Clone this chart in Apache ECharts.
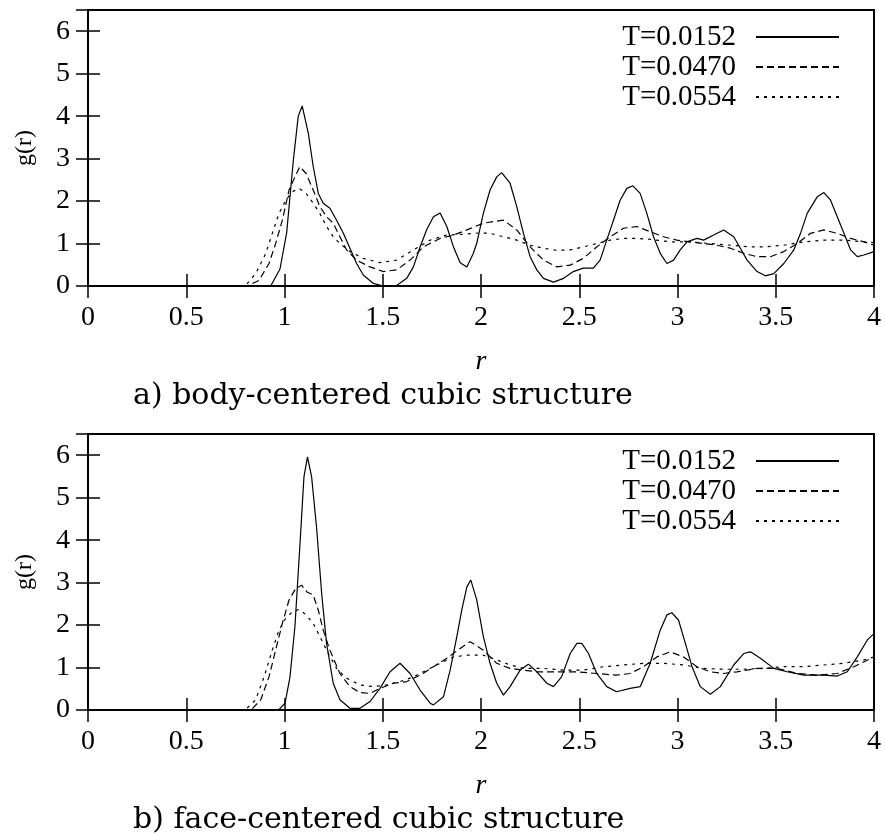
<!DOCTYPE html>
<html><head><meta charset="utf-8">
<script src="https://cdn.jsdelivr.net/npm/echarts@6/dist/echarts.min.js"></script>
<style>html,body{margin:0;padding:0;background:#fff}#c{width:885px;height:834px}</style>
</head><body><div id="c"></div>
<script>
const seriesNames = ['T=0.0152', 'T=0.0470', 'T=0.0554'];
const captions = ['a) body-centered cubic structure', 'b) face-centered cubic structure'];

// a) bcc, [r, g(r)]
const bcc_T0152 = [[0,0],[0.93,0],[0.977,0.4],[1.011,1.25],[1.045,2.96],[1.07,4.0],[1.09,4.24],[1.121,3.6],[1.146,2.82],[1.172,2.18],[1.197,1.95],[1.231,1.83],[1.265,1.55],[1.299,1.25],[1.333,0.89],[1.367,0.53],[1.401,0.26],[1.452,0.06],[1.503,0],[1.571,0.01],[1.622,0.18],[1.656,0.45],[1.69,0.92],[1.724,1.33],[1.758,1.63],[1.792,1.72],[1.826,1.40],[1.86,0.92],[1.894,0.55],[1.928,0.45],[1.96,0.76],[1.978,1.0],[2.012,1.71],[2.046,2.26],[2.08,2.57],[2.105,2.67],[2.148,2.42],[2.182,1.87],[2.216,1.24],[2.25,0.69],[2.284,0.38],[2.318,0.18],[2.369,0.09],[2.42,0.18],[2.47,0.34],[2.52,0.42],[2.572,0.42],[2.606,0.61],[2.64,1.08],[2.674,1.55],[2.708,2.02],[2.742,2.30],[2.773,2.36],[2.81,2.18],[2.844,1.71],[2.878,1.16],[2.912,0.77],[2.946,0.53],[2.98,0.61],[3.014,0.85],[3.048,1.04],[3.099,1.12],[3.133,1.08],[3.184,1.2],[3.235,1.32],[3.286,1.16],[3.32,0.89],[3.354,0.61],[3.405,0.34],[3.447,0.24],[3.49,0.29],[3.541,0.53],[3.592,0.85],[3.626,1.24],[3.66,1.71],[3.711,2.10],[3.745,2.20],[3.779,2.02],[3.813,1.63],[3.847,1.24],[3.881,0.85],[3.915,0.69],[3.949,0.73],[4.0,0.81]];
const bcc_T0470 = [[0,0],[0.81,0],[0.87,0.13],[0.921,0.53],[0.955,1.0],[0.989,1.55],[1.023,2.26],[1.057,2.61],[1.078,2.81],[1.11,2.65],[1.146,2.26],[1.18,1.87],[1.214,1.63],[1.248,1.48],[1.282,1.16],[1.316,0.85],[1.367,0.61],[1.435,0.45],[1.503,0.34],[1.571,0.38],[1.639,0.61],[1.707,0.92],[1.792,1.12],[1.86,1.2],[1.944,1.35],[2.012,1.48],[2.114,1.55],[2.182,1.32],[2.25,0.92],[2.318,0.61],[2.386,0.45],[2.454,0.49],[2.52,0.65],[2.589,0.92],[2.657,1.16],[2.725,1.36],[2.793,1.40],[2.861,1.28],[2.929,1.16],[2.997,1.08],[3.065,1.04],[3.133,1.0],[3.201,0.96],[3.269,0.89],[3.337,0.77],[3.405,0.69],[3.473,0.69],[3.541,0.81],[3.609,1.0],[3.677,1.24],[3.745,1.32],[3.813,1.24],[3.881,1.12],[3.949,1.04],[4.0,0.96]];
const bcc_T0554 = [[0,0],[0.80,0],[0.853,0.29],[0.904,0.76],[0.938,1.24],[0.972,1.71],[1.006,2.02],[1.04,2.22],[1.074,2.30],[1.11,2.18],[1.146,1.95],[1.18,1.71],[1.214,1.40],[1.248,1.16],[1.282,1.0],[1.333,0.81],[1.401,0.65],[1.486,0.55],[1.571,0.61],[1.656,0.85],[1.741,1.08],[1.826,1.2],[1.911,1.22],[1.995,1.25],[2.046,1.24],[2.114,1.16],[2.182,1.08],[2.25,0.96],[2.318,0.89],[2.386,0.84],[2.454,0.85],[2.52,0.92],[2.589,1.0],[2.657,1.08],[2.725,1.12],[2.793,1.12],[2.861,1.1],[2.963,1.04],[3.065,1.04],[3.167,1.0],[3.269,0.96],[3.371,0.92],[3.439,0.92],[3.541,0.96],[3.643,1.04],[3.745,1.08],[3.847,1.08],[4.0,1.02]];

// b) fcc, [r, g(r)]
const fcc_T0152 = [[0,0],[0.97,0],[1.003,0.16],[1.028,0.78],[1.053,1.96],[1.079,3.92],[1.099,5.49],[1.117,5.96],[1.138,5.49],[1.163,4.31],[1.189,2.75],[1.214,1.57],[1.248,0.63],[1.282,0.24],[1.333,0.04],[1.384,0.04],[1.435,0.2],[1.486,0.51],[1.537,0.9],[1.588,1.10],[1.639,0.86],[1.69,0.47],[1.741,0.16],[1.758,0.12],[1.809,0.31],[1.843,0.94],[1.877,1.73],[1.902,2.35],[1.928,2.9],[1.948,3.06],[1.978,2.6],[2.012,1.73],[2.046,1.10],[2.08,0.63],[2.114,0.35],[2.148,0.55],[2.199,0.94],[2.241,1.08],[2.284,0.9],[2.335,0.63],[2.369,0.55],[2.41,0.78],[2.454,1.33],[2.488,1.57],[2.513,1.57],[2.547,1.33],[2.589,0.86],[2.64,0.55],[2.69,0.43],[2.759,0.51],[2.81,0.55],[2.861,1.10],[2.912,1.88],[2.946,2.24],[2.971,2.29],[3.005,2.12],[3.04,1.57],[3.074,1.02],[3.116,0.55],[3.167,0.37],[3.218,0.55],[3.286,1.06],[3.337,1.33],[3.371,1.37],[3.422,1.22],[3.49,0.98],[3.558,0.9],[3.643,0.82],[3.745,0.82],[3.813,0.8],[3.864,0.9],[3.915,1.25],[3.966,1.65],[4.0,1.80]];
const fcc_T0470 = [[0,0],[0.83,0],[0.879,0.24],[0.921,0.78],[0.955,1.41],[0.989,2.04],[1.023,2.59],[1.057,2.86],[1.087,2.94],[1.114,2.78],[1.146,2.71],[1.172,2.35],[1.197,1.88],[1.231,1.41],[1.282,0.86],[1.333,0.55],[1.384,0.41],[1.435,0.39],[1.486,0.51],[1.554,0.63],[1.622,0.67],[1.69,0.82],[1.758,1.02],[1.826,1.22],[1.894,1.45],[1.945,1.61],[2.012,1.41],[2.08,1.10],[2.148,0.98],[2.216,0.94],[2.284,0.9],[2.386,0.9],[2.488,0.9],[2.589,0.86],[2.69,0.82],[2.759,0.86],[2.827,1.02],[2.895,1.25],[2.963,1.37],[3.031,1.25],[3.099,1.02],[3.167,0.9],[3.235,0.86],[3.303,0.9],[3.405,0.98],[3.507,0.98],[3.609,0.86],[3.711,0.82],[3.813,0.86],[3.898,1.02],[4.0,1.25]];
const fcc_T0554 = [[0,0],[0.80,0],[0.853,0.24],[0.896,0.78],[0.938,1.41],[0.972,1.88],[1.006,2.16],[1.04,2.31],[1.074,2.37],[1.11,2.24],[1.146,2.04],[1.18,1.73],[1.223,1.33],[1.265,0.98],[1.316,0.75],[1.384,0.59],[1.452,0.55],[1.52,0.59],[1.588,0.67],[1.656,0.78],[1.724,0.94],[1.792,1.10],[1.86,1.25],[1.928,1.29],[2.012,1.29],[2.08,1.18],[2.148,1.06],[2.216,0.98],[2.318,0.98],[2.42,0.94],[2.52,0.94],[2.623,1.02],[2.725,1.06],[2.827,1.10],[2.929,1.10],[3.031,1.06],[3.133,0.98],[3.235,0.96],[3.337,0.96],[3.439,0.98],[3.541,1.02],[3.643,1.02],[3.745,1.06],[3.847,1.10],[3.949,1.18],[4.0,1.25]];

const panels = [[bcc_T0152, bcc_T0470, bcc_T0554], [fcc_T0152, fcc_T0470, fcc_T0554]];
const lineTypes = ['solid', [7, 4], [3, 5]];
const serif = 'Liberation Serif';
const gridTops = [10, 434];
const GH = 276;

const tick = {show: true, inside: true, length: 12, lineStyle: {color: '#000', width: 1.5}};
const xAxes = [], yAxes = [], grids = [], series = [], legends = [], graphics = [];
gridTops.forEach((top, gi) => {
  grids.push({left: 88, top: top, width: 786, height: GH, show: true, borderColor: '#000', borderWidth: 2, backgroundColor: 'transparent'});
  xAxes.push({gridIndex: gi, type: 'value', min: 0, max: 4, interval: 0.5, position: 'bottom',
    axisLine: {show: false}, axisTick: tick, splitLine: {show: false},
    axisLabel: {margin: 18, color: '#000', fontFamily: serif, fontSize: 28},
    name: 'r', nameLocation: 'middle', nameGap: 62,
    nameTextStyle: {color: '#000', fontFamily: serif, fontSize: 28, fontStyle: 'italic'}});
  xAxes.push({gridIndex: gi, type: 'value', min: 0, max: 4, interval: 0.5, position: 'top',
    axisLine: {show: false}, axisTick: tick, splitLine: {show: false}, axisLabel: {show: false}});
  yAxes.push({gridIndex: gi, type: 'value', min: 0, max: 6.5, interval: 1, position: 'left',
    axisLine: {show: false}, axisTick: tick, splitLine: {show: false},
    axisLabel: {margin: 18, color: '#000', fontFamily: serif, fontSize: 28, showMaxLabel: false, padding: [4, 0, 0, 0]},
    name: 'g(r)', nameLocation: 'middle', nameGap: 51, nameRotate: 90,
    nameTextStyle: {color: '#000', fontFamily: serif, fontSize: 24}});
  yAxes.push({gridIndex: gi, type: 'value', min: 0, max: 6.5, interval: 1, position: 'right',
    axisLine: {show: false}, axisTick: tick, splitLine: {show: false}, axisLabel: {show: false}});
  panels[gi].forEach((data, si) => {
    series.push({type: 'line', name: seriesNames[si], xAxisIndex: gi * 2, yAxisIndex: gi * 2,
      data: data, symbol: 'none', showSymbol: false, animation: false, z: 3,
      itemStyle: {color: '#000'},
      lineStyle: {color: '#000', width: 1.2, type: lineTypes[si]}});
  });
  legends.push({top: top + 12, right: 45, orient: 'vertical', align: 'right', itemGap: 0,
    itemWidth: 83, itemHeight: 14, selectedMode: false, padding: 0,
    itemStyle: {opacity: 0},
    textStyle: {fontFamily: serif, fontSize: 29, color: '#000', lineHeight: 30, padding: [0, 15, 0, 0]},
    data: seriesNames});
  graphics.push({type: 'text', x: 133, y: top + GH + 110, style: {text: captions[gi], font: '30px "DejaVu Serif"', fill: '#000', verticalAlign: 'middle', align: 'left'}});
});

const chart = echarts.init(document.getElementById('c'), null, {renderer: 'canvas'});
chart.setOption({
  animation: false,
  backgroundColor: '#fff',
  grid: grids, xAxis: xAxes, yAxis: yAxes, series: series, legend: legends, graphic: graphics
});
</script></body></html>
